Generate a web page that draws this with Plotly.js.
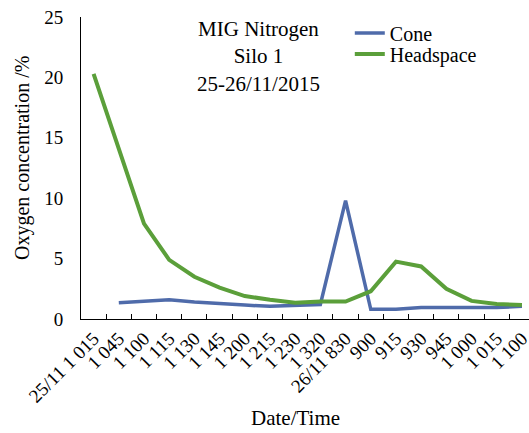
<!DOCTYPE html>
<html>
<head>
<meta charset="utf-8">
<script src="https://cdn.plot.ly/plotly-3.0.1.min.js"></script>
<style>html,body{margin:0;padding:0;background:#fff;}#chart{width:529px;height:433px;}</style>
</head>
<body>
<div id="chart"></div>
<script>
const tickLabels = ['25/11 1 015','1 045','1 100','1 115','1 130','1 145','1 200','1 215','1 230','1 320','26/11 830','900','915','930','945','1 000','1 015','1 100'];
const coneValues = [null, 1.35, 1.45, 1.6, 1.4, 1.25, 1.15, 1.05, 1.15, 1.2, 9.8, 0.8, 0.8, 0.95, 0.95, 0.95, 0.95, 1.05];
const headspaceValues = [20.3, 14.1, 7.9, 4.9, 3.5, 2.6, 1.9, 1.6, 1.35, 1.45, 1.45, 2.3, 4.75, 4.35, 2.5, 1.5, 1.25, 1.15];
const seriesNames = ['Cone', 'Headspace'];
const titleLines = ['MIG Nitrogen', 'Silo 1', '25-26/11/2015'];
const xTitle = 'Date/Time';
const yTitle = 'Oxygen concentration /%';

const idx = tickLabels.map((_, i) => i);
const bounds = tickLabels.slice(1).map((_, i) => i + 0.5);
const font = '"Liberation Serif", "Times New Roman", serif';

const traces = [
  {x: idx, y: coneValues, name: seriesNames[0], type: 'scatter', mode: 'lines',
   line: {color: '#4F6BAA', width: 3.5}, connectgaps: false, legend: 'legend'},
  {x: idx, y: headspaceValues, name: seriesNames[1], type: 'scatter', mode: 'lines',
   line: {color: '#5B9F3A', width: 4}, legend: 'legend2'}
];

const legendCommon = {xref: 'paper', yref: 'paper', xanchor: 'left', yanchor: 'middle',
  bgcolor: 'rgba(0,0,0,0)', font: {family: font, size: 20, color: '#000'}, itemwidth: 30};

const layout = {
  width: 529, height: 433,
  margin: {l: 81, r: 0, t: 17, b: 114},
  paper_bgcolor: '#fff', plot_bgcolor: '#fff',
  font: {family: font, color: '#000'},
  showlegend: true,
  legend: Object.assign({x: 0.6, y: (319 - 33) / 302}, legendCommon),
  legend2: Object.assign({x: 0.6, y: (319 - 54) / 302}, legendCommon),
  xaxis: {
    range: [-0.5, 17.28], tickmode: 'array', tickvals: idx, ticktext: tickLabels,
    tickangle: -45, ticks: '', showline: true, linecolor: '#000', linewidth: 1,
    showgrid: false, zeroline: false, ticklabeloverflow: 'allow',
    tickfont: {family: font, size: 19, color: '#000'},
    minor: {tickmode: 'array', tickvals: bounds, ticks: 'inside', ticklen: 5, tickcolor: '#000', tickwidth: 1, showgrid: false}
  },
  yaxis: {
    range: [0, 25], tickvals: [0, 5, 10, 15, 20, 25], ticks: '', showline: true,
    linecolor: '#000', linewidth: 1, showgrid: false, zeroline: false,
    tickfont: {family: font, size: 19, color: '#000'}, ticklabelstandoff: 13
  },
  annotations: [
    {text: titleLines.join('<br>'), xref: 'paper', yref: 'paper', x: (258 - 81) / 448, y: (319 - 56) / 302,
     xanchor: 'center', yanchor: 'middle', showarrow: false, align: 'center',
     font: {family: font, size: 21, color: '#000'}},
    {text: xTitle, xref: 'paper', yref: 'paper', x: (295 - 81) / 448, y: (319 - 418) / 302,
     xanchor: 'center', yanchor: 'middle', showarrow: false, font: {family: font, size: 21, color: '#000'}},
    {text: yTitle, xref: 'paper', yref: 'paper', x: (22 - 81) / 448, y: (319 - 158) / 302,
     xanchor: 'center', yanchor: 'middle', showarrow: false, textangle: -90,
     font: {family: font, size: 20, color: '#000'}}
  ]
};

Plotly.newPlot('chart', traces, layout, {staticPlot: true, displayModeBar: false});
</script>
</body>
</html>
